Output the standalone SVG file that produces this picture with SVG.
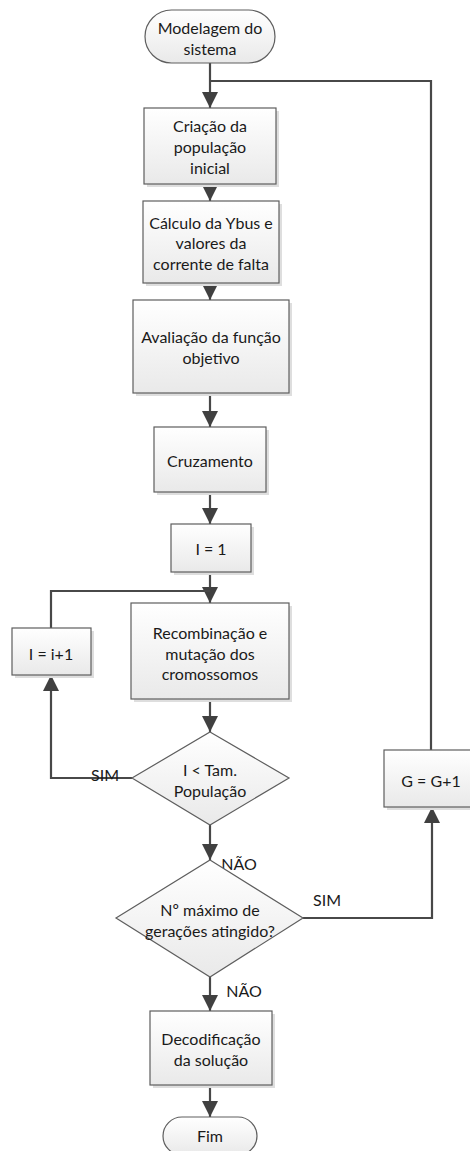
<svg xmlns="http://www.w3.org/2000/svg" width="470" height="1151" viewBox="0 0 470 1151">
  <defs>
    <linearGradient id="fillGrad" x1="0" y1="0" x2="0" y2="1">
      <stop offset="0" stop-color="#ffffff"/>
      <stop offset="1" stop-color="#e9e9e9"/>
    </linearGradient>
    <marker id="arrow" viewBox="0 0 16 16" refX="16" refY="8" markerWidth="16" markerHeight="16" markerUnits="userSpaceOnUse" orient="auto">
      <path d="M0,0 L16,8 L0,16 Z" fill="#404040"/>
    </marker>
    <style>
      .shape { fill: url(#fillGrad); stroke: #5e5e5e; stroke-width: 1.2; }
      .shadow { fill: #dedede; }
      .txt { font-family: Lato, "Open Sans", sans-serif; font-size: 16px; fill: #1a1a1a; text-anchor: middle; dominant-baseline: central; }
      .lbl { font-family: Lato, "Open Sans", sans-serif; font-size: 16px; fill: #1a1a1a; text-anchor: middle; dominant-baseline: central; }
      .conn { fill: none; stroke: #484848; stroke-width: 2.2; }
      .arr { marker-end: url(#arrow); }
    </style>
  </defs>
  <rect width="470" height="1151" fill="#ffffff"/>

  <!-- connectors -->
  <g id="connectors">
    <path class="conn arr" d="M210,63 L210,108"/>
    <path class="conn" d="M431,750 L431,81 L210,81"/>
    <path class="conn arr" d="M210,184 L210,201"/>
    <path class="conn arr" d="M210,283 L210,300"/>
    <path class="conn arr" d="M210,393 L210,427"/>
    <path class="conn arr" d="M210,492 L210,524"/>
    <path class="conn arr" d="M210,572 L210,603"/>
    <path class="conn arr" d="M132,778 L51,778 L51,675"/>
    <path class="conn" d="M51,628 L51,591 L210,591"/>
    <path class="conn arr" d="M210,699 L210,732"/>
    <path class="conn arr" d="M210,825 L210,860"/>
    <path class="conn arr" d="M303,918 L432,918 L432,807"/>
    <path class="conn arr" d="M210,977 L210,1011"/>
    <path class="conn arr" d="M210,1085 L210,1117"/>
    <text class="lbl" x="105" y="774">SIM</text>
    <text class="lbl" x="239" y="863">NÃO</text>
    <text class="lbl" x="327" y="899">SIM</text>
    <text class="lbl" x="244" y="990">NÃO</text>
  </g>

  <g id="start">
    <rect class="shape" x="145" y="10" width="130" height="53" rx="26.5" ry="26.5"/>
    <text class="txt" x="210" y="27">Modelagem do</text>
    <text class="txt" x="210" y="48">sistema</text>
  </g>

  <g id="criacao">
    <rect class="shadow" x="147" y="111" width="132" height="76"/>
    <rect class="shape" x="144" y="108" width="132" height="76"/>
    <text class="txt" x="210" y="125">Criação da</text>
    <text class="txt" x="210" y="146">população</text>
    <text class="txt" x="210" y="167">inicial</text>
  </g>

  <g id="calculo">
    <rect class="shadow" x="146" y="204" width="136" height="82"/>
    <rect class="shape" x="143" y="201" width="136" height="82"/>
    <text class="txt" x="211" y="222">Cálculo da Ybus e</text>
    <text class="txt" x="211" y="242">valores da</text>
    <text class="txt" x="211" y="263">corrente de falta</text>
  </g>

  <g id="avaliacao">
    <rect class="shadow" x="136" y="303" width="156" height="93"/>
    <rect class="shape" x="133" y="300" width="156" height="93"/>
    <text class="txt" x="211" y="336">Avaliação da função</text>
    <text class="txt" x="211" y="357">objetivo</text>
  </g>

  <g id="cruzamento">
    <rect class="shadow" x="157" y="430" width="112" height="65"/>
    <rect class="shape" x="154" y="427" width="112" height="65"/>
    <text class="txt" x="210" y="460">Cruzamento</text>
  </g>

  <g id="i-init">
    <rect class="shadow" x="174" y="527" width="80" height="48"/>
    <rect class="shape" x="171" y="524" width="80" height="48"/>
    <text class="txt" x="211" y="548">I = 1</text>
  </g>

  <g id="recombinacao">
    <rect class="shadow" x="134" y="606" width="158" height="96"/>
    <rect class="shape" x="131" y="603" width="158" height="96"/>
    <text class="txt" x="210" y="632">Recombinação e</text>
    <text class="txt" x="210" y="653">mutação dos</text>
    <text class="txt" x="210" y="673">cromossomos</text>
  </g>

  <g id="i-inc">
    <rect class="shadow" x="15" y="631" width="79" height="47"/>
    <rect class="shape" x="12" y="628" width="79" height="47"/>
    <text class="txt" x="51" y="653">I = i+1</text>
  </g>

  <g id="teste-pop">
    <polygon class="shape" points="210,732 289,778 210,825 132,778"/>
    <text class="txt" x="210" y="769">I &lt; Tam.</text>
    <text class="txt" x="210" y="790">População</text>
  </g>

  <g id="teste-geracoes">
    <polygon class="shape" points="210,860 303,918 210,977 116,918"/>
    <text class="txt" x="210" y="909">Nº máximo de</text>
    <text class="txt" x="210" y="930">gerações atingido?</text>
  </g>

  <g id="g-inc">
    <rect class="shadow" x="387" y="753" width="94" height="57"/>
    <rect class="shape" x="384" y="750" width="94" height="57"/>
    <text class="txt" x="431" y="780">G = G+1</text>
  </g>

  <g id="decodificacao">
    <rect class="shadow" x="153" y="1014" width="122" height="74"/>
    <rect class="shape" x="150" y="1011" width="122" height="74"/>
    <text class="txt" x="211" y="1038">Decodificação</text>
    <text class="txt" x="211" y="1059">da solução</text>
  </g>

  <g id="fim">
    <rect class="shape" x="163" y="1117" width="94" height="38" rx="19" ry="19"/>
    <text class="txt" x="210" y="1135">Fim</text>
  </g>
</svg>
